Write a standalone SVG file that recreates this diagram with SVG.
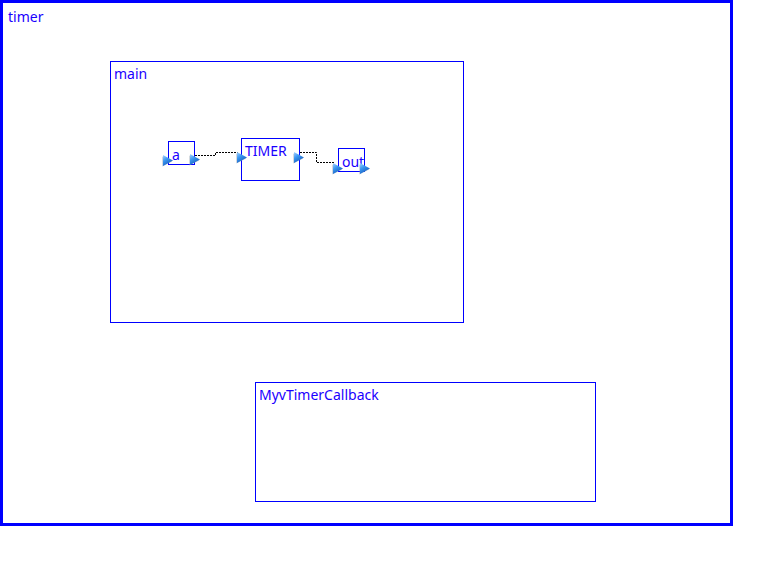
<svg xmlns="http://www.w3.org/2000/svg" width="783" height="577" viewBox="0 0 783 577">
<style>
.frame{fill:none;stroke:#0000ff;stroke-width:1}
.lbl{font-family:"Noto Sans","DejaVu Sans",sans-serif;font-size:14px;fill:#1a00ff}
.wire{fill:none;stroke:#000;stroke-width:1;stroke-dasharray:2,1}
</style>
<defs>
<linearGradient id="pg" x1="0" y1="0" x2="0.6" y2="1">
<stop offset="0" stop-color="#a8d4ff"/>
<stop offset="0.45" stop-color="#3a96f0"/>
<stop offset="1" stop-color="#1458b8"/>
</linearGradient>
<g id="port"><polygon points="0,1 10,6 0,11" fill="#8a96a6" opacity="0.45" transform="translate(-0.8,0.6)"/><polygon points="0,0 10,5.5 0,11" fill="url(#pg)"/></g>
</defs>
<rect width="783" height="577" fill="#fff"/>
<g id="timer">
<rect x="1.5" y="1.5" width="730" height="523" fill="none" stroke="#0000ff" stroke-width="3"/>
<text class="lbl" x="8" y="22">timer</text>
</g>
<g id="main">
<rect class="frame" x="110.5" y="61.5" width="353" height="261"/>
<text class="lbl" x="114" y="79">main</text>
</g>
<g id="MyvTimerCallback">
<rect class="frame" x="255.5" y="382.5" width="340" height="119"/>
<text class="lbl" x="259" y="400">MyvTimerCallback</text>
</g>
<g id="connectors">
<path class="wire" d="M195,155.5 H215.5 V152.5 H238"/>
<path class="wire" d="M300,152.5 H316.5 V162.5 H335"/>
</g>
<g id="a">
<rect class="frame" x="168.5" y="141.5" width="26" height="23"/>
<text class="lbl" x="172" y="160">a</text>
<use href="#port" x="163" y="155"/>
<use href="#port" x="190" y="154"/>
</g>
<g id="TIMER">
<rect class="frame" x="241.5" y="138.5" width="58" height="42"/>
<text class="lbl" x="245" y="156">TIMER</text>
<use href="#port" x="237" y="152"/>
<use href="#port" x="294" y="152"/>
</g>
<g id="out">
<rect class="frame" x="338.5" y="148.5" width="26" height="23"/>
<text class="lbl" x="342" y="167">out</text>
<use href="#port" x="333" y="163"/>
<use href="#port" x="360" y="163"/>
</g>
</svg>
